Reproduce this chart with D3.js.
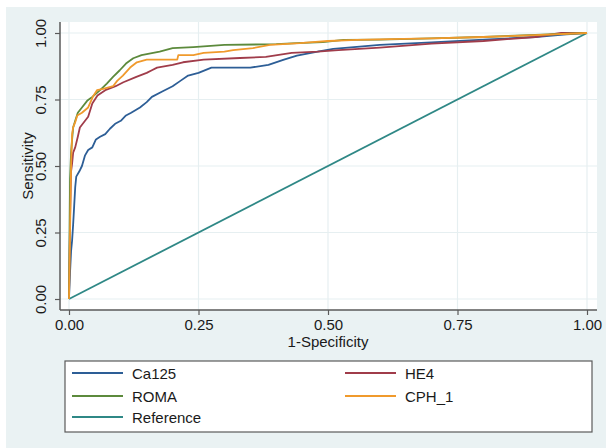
<!DOCTYPE html>
<html>
<head>
<meta charset="utf-8">
<script src="https://cdn.jsdelivr.net/npm/d3@7"></script>
<style>
  body { margin: 0; background: #fff; }
  text { font-family: "Liberation Sans", Arial, sans-serif; fill: #1a1a1a; }
</style>
</head>
<body>
<div id="chart"></div>
<script>
// ROC points: [1-specificity, sensitivity]
var ca125 = [[0,0],[0.002,0.10],[0.004,0.18],[0.006,0.22],[0.008,0.28],[0.010,0.35],[0.012,0.42],
  [0.014,0.46],[0.020,0.48],[0.025,0.50],[0.031,0.54],[0.037,0.56],[0.045,0.57],[0.052,0.60],
  [0.060,0.61],[0.070,0.62],[0.079,0.64],[0.090,0.66],[0.100,0.67],[0.110,0.69],[0.120,0.70],
  [0.137,0.72],[0.150,0.74],[0.160,0.76],[0.180,0.78],[0.200,0.80],[0.215,0.82],[0.230,0.84],
  [0.250,0.85],[0.275,0.87],[0.300,0.87],[0.350,0.87],[0.385,0.88],[0.415,0.90],[0.440,0.915],
  [0.480,0.93],[0.510,0.94],[0.550,0.947],[0.600,0.955],[0.700,0.965],[0.800,0.975],
  [0.900,0.985],[0.960,0.995],[1,1]];
var he4 = [[0,0],[0.002,0.30],[0.004,0.48],[0.006,0.51],[0.008,0.55],[0.012,0.57],[0.017,0.61],
  [0.021,0.645],[0.031,0.67],[0.037,0.685],[0.045,0.735],[0.055,0.765],[0.070,0.785],[0.090,0.80],
  [0.105,0.815],[0.130,0.835],[0.150,0.85],[0.160,0.86],[0.170,0.87],[0.200,0.88],[0.220,0.89],
  [0.260,0.90],[0.330,0.906],[0.380,0.91],[0.430,0.925],[0.480,0.93],[0.520,0.936],[0.600,0.945],
  [0.700,0.96],[0.800,0.97],[0.900,0.985],[0.950,1],[1,1]];
var roma = [[0,0],[0.002,0.45],[0.004,0.55],[0.006,0.60],[0.008,0.645],[0.012,0.67],[0.017,0.70],
  [0.025,0.72],[0.035,0.745],[0.045,0.76],[0.060,0.785],[0.073,0.81],[0.085,0.835],[0.098,0.86],
  [0.110,0.885],[0.124,0.905],[0.140,0.917],[0.175,0.93],[0.200,0.943],[0.240,0.947],[0.300,0.955],
  [0.400,0.958],[0.440,0.962],[0.490,0.966],[0.530,0.974],[0.600,0.975],[0.700,0.98],[0.800,0.985],
  [0.900,0.993],[1,1]];
var cph1 = [[0,0],[0.004,0.50],[0.006,0.62],[0.008,0.645],[0.012,0.665],[0.016,0.69],[0.025,0.70],
  [0.037,0.72],[0.046,0.76],[0.054,0.785],[0.066,0.79],[0.085,0.80],[0.093,0.82],[0.104,0.84],
  [0.118,0.87],[0.131,0.89],[0.150,0.90],[0.209,0.90],[0.211,0.917],[0.240,0.917],[0.260,0.925],
  [0.300,0.93],[0.317,0.936],[0.355,0.943],[0.388,0.955],[0.446,0.962],[0.470,0.966],[0.500,0.97],
  [0.556,0.974],[0.620,0.977],[0.700,0.98],[0.800,0.985],[0.900,0.992],[1,1]];
var reference = [[0,0],[1,1]];

var seriesNames = ['Ca125', 'HE4', 'ROMA', 'CPH_1', 'Reference'];
var seriesData = [ca125, he4, roma, cph1, reference];
var seriesColors = ['#2d5e96', '#a03c4a', '#5c8a3c', '#f09a2c', '#2f8886'];
var tickValues = [0, 0.25, 0.5, 0.75, 1];

var width = 606;
var height = 448;

var svg = d3.select('#chart').append('svg')
    .attr('width', width)
    .attr('height', height);

// graph region
svg.append('rect').attr('x', 6).attr('y', 7).attr('width', 600).attr('height', 441)
    .attr('fill', '#eaf2f3');
// plot region
svg.append('rect').attr('x', 60).attr('y', 22).attr('width', 537).attr('height', 288)
    .attr('fill', '#ffffff');

var xScale = d3.scaleLinear().domain([0, 1]).range([69, 587]);
var yScale = d3.scaleLinear().domain([0, 1]).range([299, 33]);

// grid
svg.append('g').selectAll('line.hg').data(tickValues).enter().append('line')
    .attr('x1', 60).attr('x2', 597)
    .attr('y1', function(d) { return yScale(d); })
    .attr('y2', function(d) { return yScale(d); })
    .attr('stroke', '#e6eff1').attr('stroke-width', 1.2);
svg.append('g').selectAll('line.vg').data(tickValues).enter().append('line')
    .attr('y1', 22).attr('y2', 310)
    .attr('x1', function(d) { return xScale(d); })
    .attr('x2', function(d) { return xScale(d); })
    .attr('stroke', '#e6eff1').attr('stroke-width', 1.2);

// axes
var xAxis = d3.axisBottom(xScale).tickValues(tickValues).tickFormat(d3.format('.2f'))
    .tickSizeInner(5).tickSizeOuter(0).tickPadding(4);
var yAxis = d3.axisLeft(yScale).tickValues(tickValues).tickFormat(d3.format('.2f'))
    .tickSizeInner(5).tickSizeOuter(0);

var gx = svg.append('g').attr('transform', 'translate(0,310)').call(xAxis);
gx.select('.domain').remove();
gx.append('line').attr('x1', 60).attr('x2', 597).attr('y1', 0).attr('y2', 0)
    .attr('stroke', '#5a5a5a').attr('stroke-width', 1.5);
gx.selectAll('.tick line').attr('stroke', '#5a5a5a').attr('stroke-width', 1.2);
gx.selectAll('.tick text').attr('font-size', 15).attr('fill', '#1a1a1a')
    .style('font-family', '"Liberation Sans", Arial, sans-serif');

var gy = svg.append('g').attr('transform', 'translate(60,0)').call(yAxis);
gy.select('.domain').remove();
gy.append('line').attr('x1', 0).attr('x2', 0).attr('y1', 22).attr('y2', 310)
    .attr('stroke', '#5a5a5a').attr('stroke-width', 1.5);
gy.selectAll('.tick line').attr('stroke', '#5a5a5a').attr('stroke-width', 1.2);
gy.selectAll('.tick text')
    .attr('font-size', 15).attr('fill', '#1a1a1a')
    .style('font-family', '"Liberation Sans", Arial, sans-serif')
    .attr('x', null).attr('dy', null)
    .attr('text-anchor', 'middle')
    .attr('transform', 'translate(-13,0) rotate(-90)')
    .attr('dy', '-0.05em');

// axis titles
svg.append('text').attr('x', 328).attr('y', 347).attr('text-anchor', 'middle')
    .attr('font-size', 15).text('1-Specificity');
svg.append('text').attr('transform', 'translate(33,166) rotate(-90)')
    .attr('text-anchor', 'middle').attr('font-size', 15).text('Sensitivity');

// curves
var line = d3.line()
    .x(function(d) { return xScale(d[0]); })
    .y(function(d) { return yScale(d[1]); });

var drawOrder = [4, 0, 1, 2, 3];
drawOrder.forEach(function(i) {
    svg.append('path')
        .datum(seriesData[i])
        .attr('d', line)
        .attr('fill', 'none')
        .attr('stroke', seriesColors[i])
        .attr('stroke-width', 1.8)
        .attr('stroke-linejoin', 'round');
});

// legend
svg.append('rect').attr('x', 65).attr('y', 361).attr('width', 527).attr('height', 71)
    .attr('fill', '#ffffff').attr('stroke', '#5a5a5a').attr('stroke-width', 1.2);

var legendX = [72, 345];
var legendY = [373, 396, 417];
seriesNames.forEach(function(name, i) {
    var col = i < 4 ? i % 2 : 0;
    var row = i < 4 ? Math.floor(i / 2) : 2;
    var lx = legendX[col];
    var ly = legendY[row];
    svg.append('line').attr('x1', lx).attr('x2', lx + 51).attr('y1', ly).attr('y2', ly)
        .attr('stroke', seriesColors[i]).attr('stroke-width', 1.8);
    svg.append('text').attr('x', lx + 60).attr('y', ly + 5.5)
        .attr('font-size', 15).text(name);
});
</script>
</body>
</html>
